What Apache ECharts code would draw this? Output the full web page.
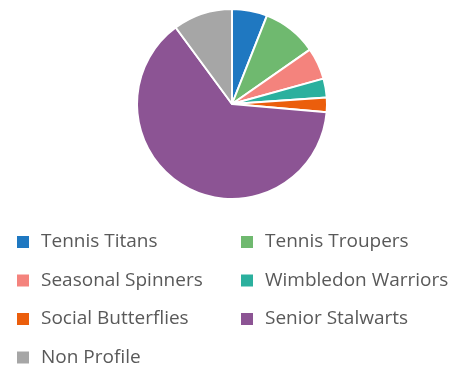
<!DOCTYPE html>
<html>
<head>
<meta charset="utf-8">
<script src="https://cdn.jsdelivr.net/npm/echarts@6/dist/echarts.min.js"></script>
<style>
  html, body { margin: 0; padding: 0; background: #fff; }
  #chart { width: 454px; height: 371px; }
</style>
</head>
<body>
<div id="chart"></div>
<script>
// segment names and shares (%)
const names = ['Tennis Titans', 'Tennis Troupers', 'Seasonal Spinners', 'Wimbledon Warriors',
  'Social Butterflies', 'Senior Stalwarts', 'Non Profile']
const values = [6.0, 9.3, 5.4, 3.2, 2.5, 63.5, 10.1]
const colors = ['#1f78c1', '#6fb96f', '#f4837d', '#2bb09e', '#eb5e0c', '#8c5494', '#a6a6a6']

const leftCol = [names[0], names[2], names[4], names[6]]
const rightCol = [names[1], names[3], names[5]]

const legendBase = {
  orient: 'vertical',
  top: 232,
  height: 139,
  padding: 0,
  itemWidth: 14,
  itemHeight: 14,
  itemGap: 18.5,
  icon: 'rect',
  textStyle: { fontFamily: 'Open Sans', fontSize: 19, color: '#595959', lineHeight: 20, padding: [0, 0, 0, 6] }
}

const chart = echarts.init(document.getElementById('chart'))
chart.setOption({
  animation: false,
  color: colors,
  legend: [
    Object.assign({}, legendBase, { left: 15, data: leftCol }),
    Object.assign({}, legendBase, { left: 239, data: rightCol })
  ],
  series: [{
    type: 'pie',
    center: [232, 104],
    radius: 95,
    startAngle: 90,
    clockwise: true,
    label: { show: false },
    labelLine: { show: false },
    itemStyle: { borderColor: '#fff', borderWidth: 2 },
    emphasis: { disabled: true },
    data: names.map((n, i) => ({ name: n, value: values[i] }))
  }]
})
</script>
</body>
</html>
